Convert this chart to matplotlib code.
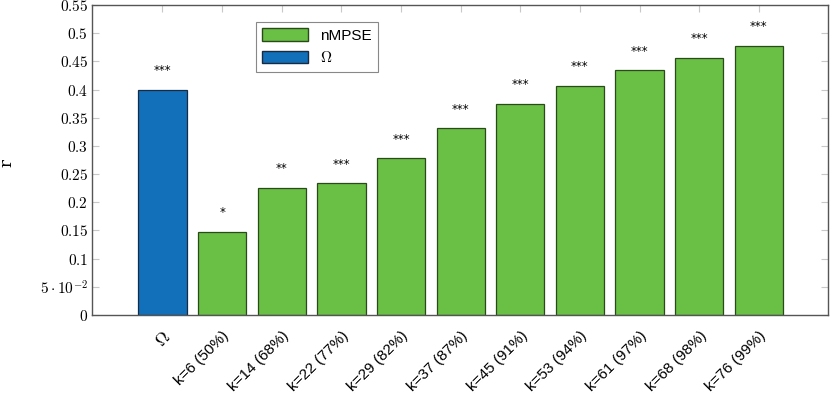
import matplotlib.pyplot as plt
import numpy as np
from matplotlib.patches import Patch

plt.rcParams["mathtext.fontset"] = "cm"

labels = [r"$\Omega$", "k=6 (50%)", "k=14 (68%)", "k=22 (77%)", "k=29 (82%)",
          "k=37 (87%)", "k=45 (91%)", "k=53 (94%)", "k=61 (97%)",
          "k=68 (98%)", "k=76 (99%)"]
r_values = [0.400, 0.148, 0.226, 0.234, 0.278, 0.331, 0.375, 0.407,
            0.434, 0.457, 0.478]
stars = ["***", "*", "**", "***", "***", "***", "***", "***", "***", "***", "***"]

yticks = [0, 0.05, 0.1, 0.15, 0.2, 0.25, 0.3, 0.35, 0.4, 0.45, 0.5, 0.55]
ytick_labels = ["$0$", r"$5\cdot10^{-2}$", "$0.1$", "$0.15$", "$0.2$", "$0.25$",
                "$0.3$", "$0.35$", "$0.4$", "$0.45$", "$0.5$", "$0.55$"]

GREEN = "#6abf45"
BLUE = "#1170b9"

fig = plt.figure(figsize=(8.3, 3.93), dpi=100)
ax = fig.add_axes([0.111, 0.1985, 0.8866, 0.7885])

x = np.arange(len(labels))
colors = [BLUE] + [GREEN] * (len(labels) - 1)
edges = ["#1a2a40"] + ["#2a4a1a"] * (len(labels) - 1)
ax.bar(x, r_values, width=0.81, color=colors, edgecolor=edges, linewidth=0.9,
       zorder=2)
for xi, v, s in zip(x, r_values, stars):
    ax.text(xi, v + 0.022, s, ha="center", va="bottom", fontsize=8.5)

ax.set_xlim(-1.18, 11.16)
ax.set_ylim(0, 0.55)
ax.set_yticks(yticks)
ax.set_yticklabels(ytick_labels, fontsize=11)
ax.set_xticks(x)
ax.set_xticklabels(labels, rotation=45, ha="right", rotation_mode="anchor",
                   fontsize=11, family="Liberation Sans")
ax.get_xticklabels()[0].set_fontsize(12.5)
ax.tick_params(axis="both", direction="in", color="#c8c8c8", length=5,
               top=True, right=True, bottom=False)
ax.tick_params(axis="x", pad=10)
ax.tick_params(axis="y", pad=3)
for sp in ax.spines.values():
    sp.set_color("#555555")
    sp.set_linewidth(1.0)

ax.set_ylabel("r", fontsize=12, family="DejaVu Serif")
ax.yaxis.set_label_coords(-0.104, 0.49)

handles = [Patch(facecolor=GREEN, edgecolor="#2a4a1a"),
           Patch(facecolor=BLUE, edgecolor="#1a2a40")]
leg = ax.legend(handles, ["nMPSE", r"$\Omega$"], loc="upper left",
                bbox_to_anchor=(0.212, 0.97), fancybox=False,
                edgecolor="#888888", framealpha=1,
                handlelength=3.0, handleheight=0.9,
                prop={"family": "Liberation Sans", "size": 11})
leg.get_frame().set_linewidth(0.8)

fig.savefig("out.png", dpi=100)
